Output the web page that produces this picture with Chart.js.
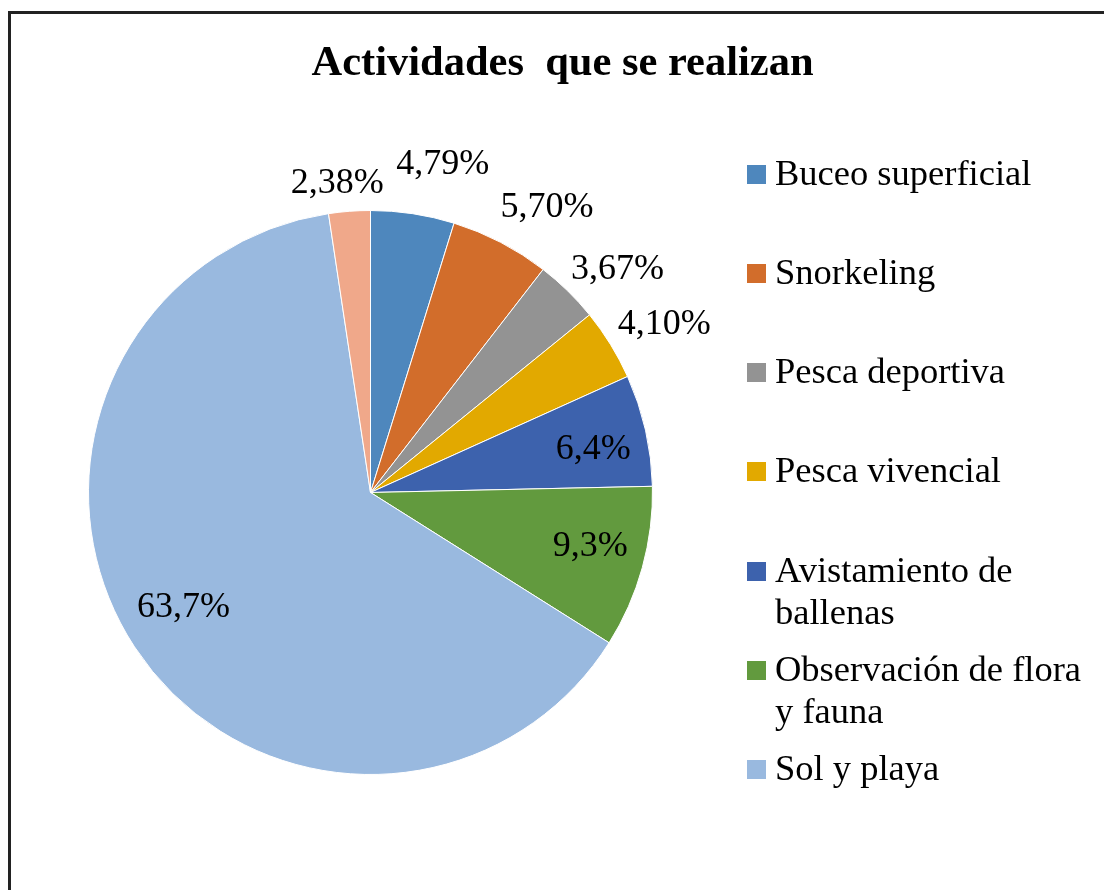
<!DOCTYPE html>
<html lang="es">

<head>
  <meta charset="UTF-8" />
  <title>Actividades que se realizan</title>
  <script src="https://cdn.jsdelivr.net/npm/chart.js"></script>
  <style>
    body {
      margin: 0;
      background: #fff;
      font-family: "Liberation Serif", "Times New Roman", serif;
    }

    #wrap {
      position: relative;
      width: 1104px;
      height: 890px;
      overflow: hidden;
    }

    #frame {
      position: absolute;
      left: 8px;
      top: 11px;
      width: 1200px;
      height: 1000px;
      border-left: 3px solid #222;
      border-top: 3px solid #222;
    }

    canvas {
      position: absolute;
      left: 0;
      top: 0;
    }

    #titulo {
      position: absolute;
      left: 0;
      top: 40px;
      width: 1125px;
      text-align: center;
      font-size: 42.5px;
      line-height: 1;
      font-weight: bold;
      white-space: pre;
      color: #000;
    }

    .leyenda-item {
      position: absolute;
      left: 747px;
    }

    .leyenda-item span.marca {
      position: absolute;
      left: 0;
      top: 13px;
      width: 19px;
      height: 19px;
    }

    .leyenda-item span.texto {
      position: absolute;
      left: 28px;
      width: 318px;
      font-size: 36.5px;
      line-height: 42px;
      color: #000;
    }
  </style>
</head>

<body>
  <div id="wrap">
    <div id="frame"></div>
    <canvas id="actividadesChart" width="1104" height="890"></canvas>
    <div id="titulo">Actividades  que se realizan</div>
    <div id="leyenda"></div>
  </div>

  <script>
    // Datos
    const categorias = [
      "Buceo superficial",
      "Snorkeling",
      "Pesca deportiva",
      "Pesca vivencial",
      "Avistamiento de ballenas",
      "Observación de flora y fauna",
      "Sol y playa",
      "Otras"
    ];
    const porcentajes = [4.79, 5.70, 3.67, 4.10, 6.4, 9.3, 63.7, 2.38];
    const etiquetas = ["4,79%", "5,70%", "3,67%", "4,10%", "6,4%", "9,3%", "63,7%", "2,38%"];
    const colores = ["#4e87bd", "#d26d2b", "#939393", "#e2a900", "#3d62ad", "#629a3e", "#99b9df", "#f0a88a"];
    const enLeyenda = 7; // la última porción no aparece en la leyenda

    // Posición de las etiquetas: fracción del radio y desplazamiento angular (grados)
    const radioEtiqueta = [1.20, 1.195, 1.185, 1.205, 0.806, 0.80, 0.774, 1.11];
    const giroEtiqueta = [3.7, 4.1, 3.3, 1.5, 1.2, -2.3, 2.1, -1.8];

    // Etiquetas de porcentaje
    const etiquetasPlugin = {
      id: "etiquetasPorcentaje",
      afterDatasetsDraw(chart) {
        const ctx = chart.ctx;
        const arcos = chart.getDatasetMeta(0).data;
        ctx.save();
        ctx.font = "36px 'Liberation Serif', 'Times New Roman', serif";
        ctx.fillStyle = "#000";
        ctx.textAlign = "center";
        ctx.textBaseline = "alphabetic";
        arcos.forEach((arco, i) => {
          const p = arco.getProps(["x", "y", "startAngle", "endAngle", "outerRadius"], true);
          const medio = (p.startAngle + p.endAngle) / 2 + giroEtiqueta[i] * Math.PI / 180;
          const r = p.outerRadius * radioEtiqueta[i];
          const x = p.x + Math.cos(medio) * r;
          const y = p.y + Math.sin(medio) * r;
          ctx.fillText(etiquetas[i], x, y + 12);
        });
        ctx.restore();
      }
    };

    const ctx = document.getElementById("actividadesChart").getContext("2d");
    new Chart(ctx, {
      type: "pie",
      data: {
        labels: categorias,
        datasets: [{
          data: porcentajes,
          backgroundColor: colores,
          borderColor: "#ffffff",
          borderWidth: 1
        }]
      },
      options: {
        responsive: false,
        animation: false,
        layout: {
          padding: { left: 88, top: 210, right: 451, bottom: 115 }
        },
        plugins: {
          legend: { display: false },
          tooltip: { enabled: false },
          title: { display: false }
        }
      },
      plugins: [etiquetasPlugin]
    });

    // Leyenda
    const leyenda = document.getElementById("leyenda");
    categorias.slice(0, enLeyenda).forEach((nombre, i) => {
      const item = document.createElement("div");
      item.className = "leyenda-item";
      item.style.top = (151.7 + i * 99.2) + "px";
      const marca = document.createElement("span");
      marca.className = "marca";
      marca.style.background = colores[i];
      const texto = document.createElement("span");
      texto.className = "texto";
      texto.textContent = nombre;
      item.appendChild(marca);
      item.appendChild(texto);
      leyenda.appendChild(item);
    });
  </script>
</body>

</html>
